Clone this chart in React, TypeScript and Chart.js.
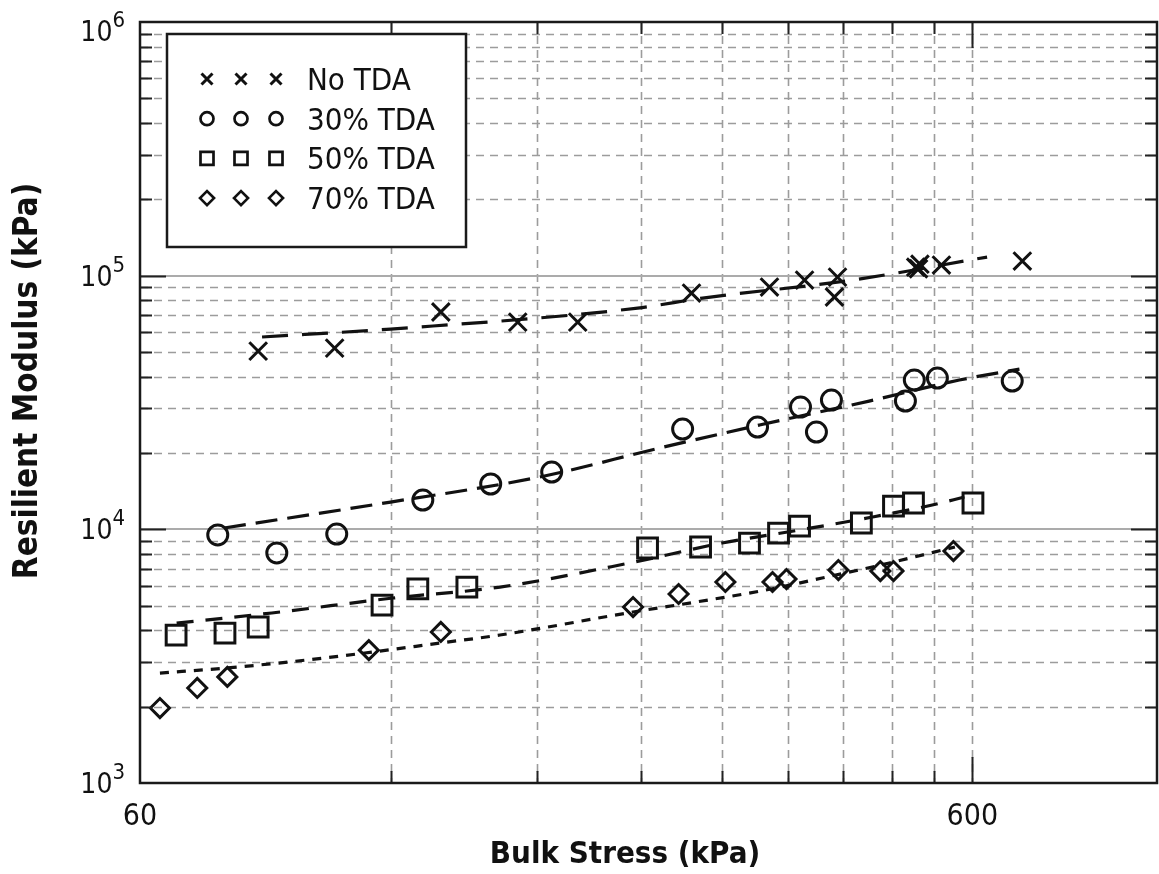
import { useEffect, useRef } from 'react';
import { Chart, registerables } from 'chart.js';

Chart.register(...registerables);

const FONT = '"DejaVu Sans Condensed", "DejaVu Sans", sans-serif';
const INK = '#111111';

// ---- measured data (Bulk stress kPa, Resilient modulus kPa) ----
const noTdaStress = [83.2, 102.8, 137.9, 170.6, 201.4, 275.9, 342.3, 377.2, 413.2, 409.7, 513, 519, 517, 550.8, 689];
const noTdaModulus = [50400, 51800, 71900, 65600, 65600, 85400, 90200, 96100, 98700, 82400, 108000, 111000, 106500, 110100, 114200];

const tda30Stress = [74.4, 87.6, 103.4, 131.2, 158.3, 187.4, 269.2, 331.2, 373, 389.8, 406.3, 498.6, 511, 544.7, 670];
const tda30Modulus = [9500, 8070, 9580, 13050, 15090, 16820, 24850, 25310, 30340, 24180, 32340, 32040, 38770, 39480, 38410];

const tda50Stress = [66.3, 75.9, 83.2, 117.2, 129.4, 148.2, 244.3, 282.9, 323.9, 351, 372, 441.4, 482.4, 509.8, 601];
const tda50Modulus = [3830, 3900, 4120, 5030, 5820, 5920, 8440, 8520, 8830, 9670, 10300, 10590, 12350, 12700, 12700];

const tda70Stress = [63.4, 70.3, 76.4, 113, 137.9, 234.7, 266.2, 303, 345.2, 358.8, 414.2, 465.2, 482.4, 569.4];
const tda70Modulus = [1975, 2370, 2620, 3340, 3940, 4940, 5560, 6200, 6200, 6370, 6910, 6850, 6850, 8210];

// fitted curves
const noTdaFitStress = [84.1, 120, 237.7, 284.5, 430.7, 625];
const noTdaFitModulus = [57300, 61600, 74500, 81600, 96100, 118400];

const tda30FitStress = [75.7, 120, 181.3, 252.6, 333, 451, 578.8, 683.5];
const tda30FitModulus = [10120, 12810, 16080, 20920, 25770, 32030, 38770, 42840];

const tda50FitStress = [66.4, 86.4, 120.8, 162.4, 232.7, 300.2, 372, 455, 537, 587];
const tda50FitModulus = [4270, 4680, 5360, 5920, 7370, 8830, 9940, 11180, 12470, 13410];

const tda70FitStress = [63.4, 76.2, 90.6, 114.2, 137.6, 162.4, 234.7, 279.2, 339, 396, 477, 571.8];
const tda70FitModulus = [2713, 2840, 3000, 3283, 3563, 3831, 4721, 5169, 5765, 6427, 7368, 8516];

const seriesLabels = ['No TDA', '30% TDA', '50% TDA', '70% TDA'];
const seriesStyles = ['crossRot', 'circle', 'rect', 'rectRot'];
const seriesRadius = [12.5, 10, 14, 9.5];
const fitDashes = [[26, 14], [22, 10], [17, 12], [9, 8]];

// axis ticks
const xMin = 60;
const xMax = 1000;
const yMin = 1000;
const yMax = 1000000;
const xTickValues = [60, 600];
const xTickLabels = ['60', '600'];
const xGridValues = [120, 180, 240, 300, 360, 420, 480, 540, 600];
const xMajorValues = [600];
const yTickValues = [1000, 10000, 100000, 1000000];
const yTickBase = ['10', '10', '10', '10'];
const yTickExponents = ['3', '4', '5', '6'];
const yMajorGridValues = [10000, 100000];
const yMinorGridValues = [
  2000, 3000, 4000, 5000, 6000, 7000, 8000, 9000,
  20000, 30000, 40000, 50000, 60000, 70000, 80000, 90000,
  200000, 300000, 400000, 500000, 600000, 700000, 800000, 900000,
];
const xTitle = 'Bulk Stress (kPa)';
const yTitle = 'Resilient Modulus (kPa)';

function pts(xs: number[], ys: number[]) {
  return xs.map((v, i) => ({ x: v, y: ys[i] }));
}

function drawMarker(ctx: CanvasRenderingContext2D, style: string, cx: number, cy: number, s: number) {
  ctx.beginPath();
  if (style === 'crossRot') {
    ctx.moveTo(cx - s, cy - s);
    ctx.lineTo(cx + s, cy + s);
    ctx.moveTo(cx + s, cy - s);
    ctx.lineTo(cx - s, cy + s);
  } else if (style === 'circle') {
    ctx.arc(cx, cy, s, 0, Math.PI * 2);
  } else if (style === 'rect') {
    ctx.rect(cx - s, cy - s, 2 * s, 2 * s);
  } else {
    ctx.moveTo(cx - s, cy);
    ctx.lineTo(cx, cy - s);
    ctx.lineTo(cx + s, cy);
    ctx.lineTo(cx, cy + s);
    ctx.closePath();
  }
  ctx.stroke();
}

const figurePlugin = {
  id: 'figurePlugin',
  beforeDatasetsDraw(chart: any) {
    const { ctx, chartArea: a, scales } = chart;
    const x = scales.x;
    const y = scales.y;
    ctx.save();
    ctx.strokeStyle = '#9c9c9c';
    ctx.lineWidth = 1.6;
    ctx.setLineDash([8, 6]);
    for (const v of yMinorGridValues) {
      const py = Math.round(y.getPixelForValue(v)) + 0.5;
      ctx.beginPath();
      ctx.moveTo(a.left, py);
      ctx.lineTo(a.right, py);
      ctx.stroke();
    }
    for (const v of xGridValues) {
      const px = Math.round(x.getPixelForValue(v)) + 0.5;
      ctx.beginPath();
      ctx.moveTo(px, a.top);
      ctx.lineTo(px, a.bottom);
      ctx.stroke();
    }
    ctx.setLineDash([]);
    ctx.strokeStyle = '#ababab';
    ctx.lineWidth = 2;
    for (const v of yMajorGridValues) {
      const py = Math.round(y.getPixelForValue(v));
      ctx.beginPath();
      ctx.moveTo(a.left, py);
      ctx.lineTo(a.right, py);
      ctx.stroke();
    }
    ctx.restore();
  },
  afterDatasetsDraw(chart: any) {
    const { ctx, chartArea: a, scales } = chart;
    const x = scales.x;
    const y = scales.y;
    ctx.save();
    ctx.strokeStyle = '#222';
    ctx.lineWidth = 2;
    for (const v of xGridValues) {
      const px = Math.round(x.getPixelForValue(v)) + 0.5;
      const len = xMajorValues.includes(v) ? 26 : 12;
      ctx.beginPath();
      ctx.moveTo(px, a.bottom);
      ctx.lineTo(px, a.bottom - len);
      ctx.moveTo(px, a.top);
      ctx.lineTo(px, a.top + len);
      ctx.stroke();
    }
    for (const v of [...yMinorGridValues, ...yMajorGridValues]) {
      const py = Math.round(y.getPixelForValue(v)) + 0.5;
      const len = yMajorGridValues.includes(v) ? 26 : 12;
      ctx.beginPath();
      ctx.moveTo(a.left, py);
      ctx.lineTo(a.left + len, py);
      ctx.moveTo(a.right, py);
      ctx.lineTo(a.right - len, py);
      ctx.stroke();
    }
    ctx.lineWidth = 2.5;
    ctx.strokeStyle = '#1a1a1a';
    ctx.strokeRect(a.left, a.top, a.right - a.left, a.bottom - a.top);
    ctx.restore();
  },
  afterDraw(chart: any) {
    const { ctx, chartArea: a, scales } = chart;
    const x = scales.x;
    const y = scales.y;
    ctx.save();
    ctx.fillStyle = INK;

    ctx.font = `30px ${FONT}`;
    ctx.textAlign = 'center';
    ctx.textBaseline = 'alphabetic';
    xTickValues.forEach((v, i) => {
      ctx.fillText(xTickLabels[i], x.getPixelForValue(v), a.bottom + 42);
    });

    yTickValues.forEach((v, i) => {
      const py = Math.max(y.getPixelForValue(v), a.top + 9);
      const right = a.left - 15;
      ctx.font = `22px ${FONT}`;
      ctx.textAlign = 'right';
      const ew = ctx.measureText(yTickExponents[i]).width;
      ctx.fillText(yTickExponents[i], right, py - 4);
      ctx.font = `28px ${FONT}`;
      ctx.fillText(yTickBase[i], right - ew, py + 10);
    });

    ctx.font = `bold 31px ${FONT}`;
    ctx.textAlign = 'center';
    ctx.fillText(xTitle, 625, 863);
    ctx.save();
    ctx.translate(37, 381);
    ctx.rotate(-Math.PI / 2);
    ctx.font = `bold 33px ${FONT}`;
    ctx.fillText(yTitle, 0, 0);
    ctx.restore();

    const bx = 167, by = 34, bw = 299, bh = 213;
    ctx.fillStyle = '#ffffff';
    ctx.fillRect(bx, by, bw, bh);
    ctx.strokeStyle = '#1a1a1a';
    ctx.lineWidth = 2.5;
    ctx.strokeRect(bx, by, bw, bh);
    const markerX = [207, 241, 276];
    const legendSize = [5.5, 6.5, 6.5, 7];
    seriesLabels.forEach((lab, i) => {
      const ry = 79 + i * 39.7;
      ctx.strokeStyle = INK;
      ctx.lineWidth = i === 0 ? 3 : 2.7;
      for (const mx of markerX) drawMarker(ctx, seriesStyles[i], mx, ry, legendSize[i]);
      ctx.fillStyle = INK;
      ctx.font = `31px ${FONT}`;
      ctx.textAlign = 'left';
      ctx.fillText(lab, 307, ry + 11);
    });
    ctx.restore();
  },
};

export default function App() {
  const ref = useRef<HTMLCanvasElement | null>(null);
  useEffect(() => {
    if (!ref.current) return;
    const scatterSets = [
      pts(noTdaStress, noTdaModulus),
      pts(tda30Stress, tda30Modulus),
      pts(tda50Stress, tda50Modulus),
      pts(tda70Stress, tda70Modulus),
    ].map((data, i) => ({
      label: seriesLabels[i],
      data,
      showLine: false,
      pointStyle: seriesStyles[i],
      pointRadius: seriesRadius[i],
      pointBorderWidth: 3,
      pointBorderColor: INK,
      pointBackgroundColor: 'rgba(0,0,0,0)',
      borderColor: INK,
    }));
    const fitSets = [
      pts(noTdaFitStress, noTdaFitModulus),
      pts(tda30FitStress, tda30FitModulus),
      pts(tda50FitStress, tda50FitModulus),
      pts(tda70FitStress, tda70FitModulus),
    ].map((data, i) => ({
      label: seriesLabels[i] + ' fit',
      data,
      showLine: true,
      pointRadius: 0,
      borderColor: INK,
      borderWidth: 3.2,
      borderDash: fitDashes[i],
      cubicInterpolationMode: 'monotone',
      fill: false,
    }));
    const chart = new Chart(ref.current, {
      type: 'scatter',
      data: { datasets: [...scatterSets, ...fitSets] as any },
      options: {
        responsive: false,
        animation: false,
        devicePixelRatio: 1,
        layout: { autoPadding: false, padding: { top: 22, right: 2, left: 0, bottom: 0 } },
        plugins: { legend: { display: false }, tooltip: { enabled: false } },
        scales: {
          x: {
            type: 'logarithmic',
            min: xMin,
            max: xMax,
            ticks: { display: false },
            grid: { display: false },
            border: { display: false },
            afterFit: (s: any) => { s.height = 91; },
          },
          y: {
            type: 'logarithmic',
            min: yMin,
            max: yMax,
            ticks: { display: false },
            grid: { display: false },
            border: { display: false },
            afterFit: (s: any) => { s.width = 140; },
          },
        },
      } as any,
      plugins: [figurePlugin],
    });
    return () => chart.destroy();
  }, []);
  return (
    <div style={{ position: 'absolute', left: 0, top: 0, width: 1159, height: 874, background: '#fff' }}>
      <canvas ref={ref} width={1159} height={874} style={{ display: 'block' }} />
    </div>
  );
}
